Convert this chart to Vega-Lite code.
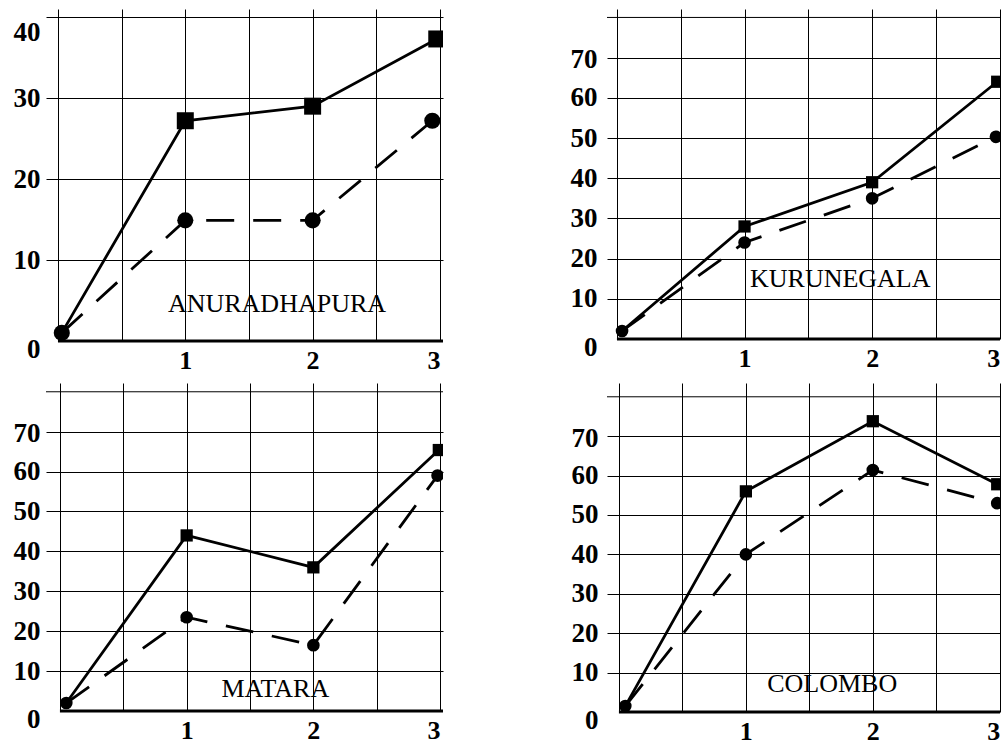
{
  "$schema": "https://vega.github.io/schema/vega-lite/v6.json",
  "background": "white",
  "padding": {"left": 13, "top": 9, "right": 0, "bottom": 0},
  "columns": 2,
  "bounds": "flush",
  "spacing": {"row": 42, "column": 164},
  "config": {
    "view": {"stroke": null},
    "axis": {
      "title": null,
      "grid": true,
      "gridColor": "black",
      "gridWidth": 1,
      "domain": false,
      "labelFont": "Liberation Serif",
      "labelFontWeight": "bold",
      "labelColor": "black",
      "labelOverlap": false,
      "labelFlush": false,
      "labelBound": false
    },
    "axisX": {
      "ticks": true,
      "tickSize": 6,
      "tickColor": "black",
      "tickWidth": 1,
      "tickOpacity": {"condition": {"test": "datum.value % 1 === 0", "value": 1}, "value": 0},
      "labelExpr": "datum.value >= 1 && datum.value % 1 === 0 ? '' + datum.value : ''",
      "labelAlign": {"condition": {"test": "datum.value === 3", "value": "right"}, "value": "center"},
      "labelFontSize": 26,
      "labelPadding": 0
    },
    "axisY": {
      "ticks": false,
      "labelFontSize": 27,
      "gridOpacity": {"condition": {"test": "datum.value === 0", "value": 0}, "value": 1}
    }
  },
  "datasets": {
    "obs": [
      {"station": "ANURADHAPURA", "series": "A", "x": 0.03, "y": 1},
      {"station": "ANURADHAPURA", "series": "A", "x": 1, "y": 27.2},
      {"station": "ANURADHAPURA", "series": "A", "x": 2, "y": 29},
      {"station": "ANURADHAPURA", "series": "A", "x": 2.975, "y": 37.3},
      {"station": "ANURADHAPURA", "series": "B", "x": 0.03, "y": 1},
      {"station": "ANURADHAPURA", "series": "B", "x": 1, "y": 14.9},
      {"station": "ANURADHAPURA", "series": "B", "x": 2, "y": 14.9},
      {"station": "ANURADHAPURA", "series": "B", "x": 2.94, "y": 27.2},
      {"station": "KURUNEGALA", "series": "A", "x": 0.04, "y": 2},
      {"station": "KURUNEGALA", "series": "A", "x": 1, "y": 28},
      {"station": "KURUNEGALA", "series": "A", "x": 2, "y": 39},
      {"station": "KURUNEGALA", "series": "A", "x": 2.98, "y": 64},
      {"station": "KURUNEGALA", "series": "B", "x": 0.04, "y": 2},
      {"station": "KURUNEGALA", "series": "B", "x": 1, "y": 24},
      {"station": "KURUNEGALA", "series": "B", "x": 2, "y": 35},
      {"station": "KURUNEGALA", "series": "B", "x": 2.97, "y": 50.3},
      {"station": "MATARA", "series": "A", "x": 0.05, "y": 2},
      {"station": "MATARA", "series": "A", "x": 1, "y": 44},
      {"station": "MATARA", "series": "A", "x": 2, "y": 36},
      {"station": "MATARA", "series": "A", "x": 2.99, "y": 65.4},
      {"station": "MATARA", "series": "B", "x": 0.05, "y": 2},
      {"station": "MATARA", "series": "B", "x": 1, "y": 23.5},
      {"station": "MATARA", "series": "B", "x": 2, "y": 16.5},
      {"station": "MATARA", "series": "B", "x": 2.98, "y": 59},
      {"station": "COLOMBO", "series": "A", "x": 0.05, "y": 1.5},
      {"station": "COLOMBO", "series": "A", "x": 1, "y": 56},
      {"station": "COLOMBO", "series": "A", "x": 2, "y": 73.8},
      {"station": "COLOMBO", "series": "A", "x": 2.98, "y": 57.8},
      {"station": "COLOMBO", "series": "B", "x": 0.05, "y": 1.5},
      {"station": "COLOMBO", "series": "B", "x": 1, "y": 40},
      {"station": "COLOMBO", "series": "B", "x": 2, "y": 61.4},
      {"station": "COLOMBO", "series": "B", "x": 2.98, "y": 53}
    ]
  },
  "concat": [
    {
      "width": 397,
      "height": 332,
      "data": {"name": "obs"},
      "encoding": {
        "x": {"field": "x", "type": "quantitative", "title": null, "scale": {"domain": [-0.094, 3.024], "nice": false, "zero": false},
          "axis": {"values": [0, 0.5, 1, 1.5, 2, 2.5, 3]}},
        "y": {"field": "y", "type": "quantitative", "title": null, "scale": {"domain": [0, 41], "nice": false},
          "axis": {"values": [0, 10, 20, 30, 40], "labelPadding": 6,
            "labelOffset": {"condition": [{"test": "datum.value === 0", "value": 8}, {"test": "datum.value === 40", "value": 15}], "value": 0}}}
      },
      "layer": [
        {"transform": [{"filter": "datum.station === 'ANURADHAPURA' && datum.series === 'A'"}],
         "mark": {"type": "line", "color": "black", "strokeWidth": 2.8, "clip": true}},
        {"transform": [{"filter": "datum.station === 'ANURADHAPURA' && datum.series === 'B'"}],
         "mark": {"type": "line", "color": "black", "strokeWidth": 2.8, "strokeDash": [28, 19], "clip": true}},
        {"transform": [{"filter": "datum.station === 'ANURADHAPURA' && datum.series === 'A' && datum.x > 0.5"}],
         "mark": {"type": "square", "color": "black", "filled": true, "opacity": 1, "size": 289, "clip": true}},
        {"transform": [{"filter": "datum.station === 'ANURADHAPURA' && datum.series === 'B'"}],
         "mark": {"type": "circle", "color": "black", "opacity": 1, "size": 260, "clip": true}},
        {"transform": [{"filter": "datum.station === 'ANURADHAPURA' && datum.series === 'A' && datum.x === 1"}],
         "mark": {"type": "rule", "color": "black", "strokeWidth": 3},
         "encoding": {"x": {"datum": 0, "type": "quantitative"}, "x2": {"datum": 3.024}, "y": {"datum": 0, "type": "quantitative"}}},
        {"transform": [{"filter": "datum.station === 'ANURADHAPURA' && datum.series === 'A' && datum.x === 1"}],
         "mark": {"type": "text", "font": "Liberation Serif", "fontSize": 26, "align": "center", "baseline": "alphabetic", "fill": "black"},
         "encoding": {"x": {"datum": 1.72}, "y": {"datum": 3.6}, "text": {"field": "station", "type": "nominal"}}}
      ]
    },
    {
      "width": 393,
      "height": 330,
      "data": {"name": "obs"},
      "encoding": {
        "x": {"field": "x", "type": "quantitative", "title": null, "scale": {"domain": [-0.078, 3.002], "nice": false, "zero": false},
          "axis": {"values": [0, 0.5, 1, 1.5, 2, 2.5, 3]}},
        "y": {"field": "y", "type": "quantitative", "title": null, "scale": {"domain": [0, 82.1], "nice": false},
          "axis": {"values": [0, 10, 20, 30, 40, 50, 60, 70], "labelPadding": 10,
            "labelOffset": {"condition": [{"test": "datum.value === 0", "value": 8}, {"test": "datum.value === 70", "value": 2}], "value": 0}}}
      },
      "layer": [
        {"transform": [{"filter": "datum.station === 'KURUNEGALA' && datum.series === 'A' && datum.x === 1"}],
         "mark": {"type": "rule", "color": "black", "strokeWidth": 1},
         "encoding": {"x": {"datum": -0.078, "type": "quantitative"}, "x2": {"datum": 3.002}, "y": {"datum": 80, "type": "quantitative"}}},
        {"transform": [{"filter": "datum.station === 'KURUNEGALA' && datum.series === 'A'"}],
         "mark": {"type": "line", "color": "black", "strokeWidth": 2.8, "clip": true}},
        {"transform": [{"filter": "datum.station === 'KURUNEGALA' && datum.series === 'B'"}],
         "mark": {"type": "line", "color": "black", "strokeWidth": 2.8, "strokeDash": [28, 19], "clip": true}},
        {"transform": [{"filter": "datum.station === 'KURUNEGALA' && datum.series === 'A' && datum.x > 0.5"}],
         "mark": {"type": "square", "color": "black", "filled": true, "opacity": 1, "size": 150, "clip": true}},
        {"transform": [{"filter": "datum.station === 'KURUNEGALA' && datum.series === 'B'"}],
         "mark": {"type": "circle", "color": "black", "opacity": 1, "size": 160, "clip": true}},
        {"transform": [{"filter": "datum.station === 'KURUNEGALA' && datum.series === 'A' && datum.x === 1"}],
         "mark": {"type": "rule", "color": "black", "strokeWidth": 3},
         "encoding": {"x": {"datum": 0, "type": "quantitative"}, "x2": {"datum": 3.002}, "y": {"datum": 0, "type": "quantitative"}}},
        {"transform": [{"filter": "datum.station === 'KURUNEGALA' && datum.series === 'A' && datum.x === 1"}],
         "mark": {"type": "text", "font": "Liberation Serif", "fontSize": 26, "align": "center", "baseline": "alphabetic", "fill": "black"},
         "encoding": {"x": {"datum": 1.75}, "y": {"datum": 12.9}, "text": {"field": "station", "type": "nominal"}}}
      ]
    },
    {
      "width": 397,
      "height": 328,
      "data": {"name": "obs"},
      "encoding": {
        "x": {"field": "x", "type": "quantitative", "title": null, "scale": {"domain": [-0.11, 3.023], "nice": false, "zero": false},
          "axis": {"values": [0, 0.5, 1, 1.5, 2, 2.5, 3]}},
        "y": {"field": "y", "type": "quantitative", "title": null, "scale": {"domain": [0, 82.2], "nice": false},
          "axis": {"values": [0, 10, 20, 30, 40, 50, 60, 70], "labelPadding": 6,
            "labelOffset": {"condition": [{"test": "datum.value === 0", "value": 8}, {"test": "datum.value === 70", "value": 2}], "value": 0}}}
      },
      "layer": [
        {"transform": [{"filter": "datum.station === 'MATARA' && datum.series === 'A' && datum.x === 1"}],
         "mark": {"type": "rule", "color": "black", "strokeWidth": 1},
         "encoding": {"x": {"datum": -0.11, "type": "quantitative"}, "x2": {"datum": 3.023}, "y": {"datum": 80, "type": "quantitative"}}},
        {"transform": [{"filter": "datum.station === 'MATARA' && datum.series === 'A'"}],
         "mark": {"type": "line", "color": "black", "strokeWidth": 2.8, "clip": true}},
        {"transform": [{"filter": "datum.station === 'MATARA' && datum.series === 'B'"}],
         "mark": {"type": "line", "color": "black", "strokeWidth": 2.8, "strokeDash": [28, 19], "clip": true}},
        {"transform": [{"filter": "datum.station === 'MATARA' && datum.series === 'A' && datum.x > 0.5"}],
         "mark": {"type": "square", "color": "black", "filled": true, "opacity": 1, "size": 150, "clip": true}},
        {"transform": [{"filter": "datum.station === 'MATARA' && datum.series === 'B'"}],
         "mark": {"type": "circle", "color": "black", "opacity": 1, "size": 160, "clip": true}},
        {"transform": [{"filter": "datum.station === 'MATARA' && datum.series === 'A' && datum.x === 1"}],
         "mark": {"type": "rule", "color": "black", "strokeWidth": 3},
         "encoding": {"x": {"datum": 0, "type": "quantitative"}, "x2": {"datum": 3.023}, "y": {"datum": 0, "type": "quantitative"}}},
        {"transform": [{"filter": "datum.station === 'MATARA' && datum.series === 'A' && datum.x === 1"}],
         "mark": {"type": "text", "font": "Liberation Serif", "fontSize": 26, "align": "center", "baseline": "alphabetic", "fill": "black"},
         "encoding": {"x": {"datum": 1.70}, "y": {"datum": 3.5}, "text": {"field": "station", "type": "nominal"}}}
      ]
    },
    {
      "width": 393,
      "height": 329,
      "data": {"name": "obs"},
      "encoding": {
        "x": {"field": "x", "type": "quantitative", "title": null, "scale": {"domain": [-0.094, 3.002], "nice": false, "zero": false},
          "axis": {"values": [0, 0.5, 1, 1.5, 2, 2.5, 3]}},
        "y": {"field": "y", "type": "quantitative", "title": null, "scale": {"domain": [0, 83.5], "nice": false},
          "axis": {"values": [0, 10, 20, 30, 40, 50, 60, 70], "labelPadding": 9,
            "labelOffset": {"condition": [{"test": "datum.value === 0", "value": 8}, {"test": "datum.value === 70", "value": 2}], "value": 0}}}
      },
      "layer": [
        {"transform": [{"filter": "datum.station === 'COLOMBO' && datum.series === 'A' && datum.x === 1"}],
         "mark": {"type": "rule", "color": "black", "strokeWidth": 1},
         "encoding": {"x": {"datum": -0.094, "type": "quantitative"}, "x2": {"datum": 3.002}, "y": {"datum": 80, "type": "quantitative"}}},
        {"transform": [{"filter": "datum.station === 'COLOMBO' && datum.series === 'A'"}],
         "mark": {"type": "line", "color": "black", "strokeWidth": 2.8, "clip": true}},
        {"transform": [{"filter": "datum.station === 'COLOMBO' && datum.series === 'B'"}],
         "mark": {"type": "line", "color": "black", "strokeWidth": 2.8, "strokeDash": [28, 19], "clip": true}},
        {"transform": [{"filter": "datum.station === 'COLOMBO' && datum.series === 'A' && datum.x > 0.5"}],
         "mark": {"type": "square", "color": "black", "filled": true, "opacity": 1, "size": 150, "clip": true}},
        {"transform": [{"filter": "datum.station === 'COLOMBO' && datum.series === 'B'"}],
         "mark": {"type": "circle", "color": "black", "opacity": 1, "size": 160, "clip": true}},
        {"transform": [{"filter": "datum.station === 'COLOMBO' && datum.series === 'A' && datum.x === 1"}],
         "mark": {"type": "rule", "color": "black", "strokeWidth": 3},
         "encoding": {"x": {"datum": 0, "type": "quantitative"}, "x2": {"datum": 3.002}, "y": {"datum": 0, "type": "quantitative"}}},
        {"transform": [{"filter": "datum.station === 'COLOMBO' && datum.series === 'A' && datum.x === 1"}],
         "mark": {"type": "text", "font": "Liberation Serif", "fontSize": 26, "align": "center", "baseline": "alphabetic", "fill": "black"},
         "encoding": {"x": {"datum": 1.68}, "y": {"datum": 5.1}, "text": {"field": "station", "type": "nominal"}}}
      ]
    }
  ]
}
